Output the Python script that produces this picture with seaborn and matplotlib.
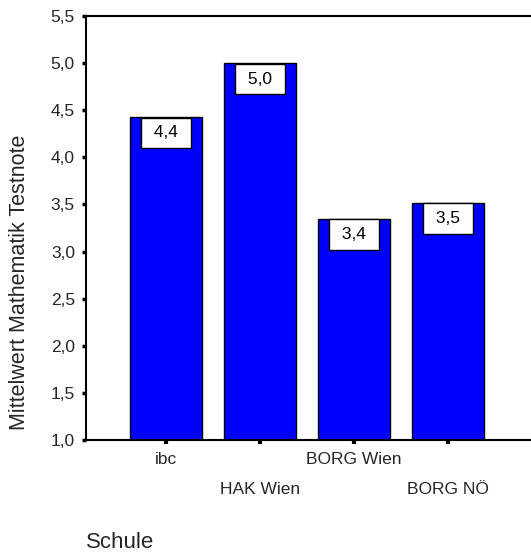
import numpy as np
import pandas as pd
import matplotlib
matplotlib.use("Agg")
import matplotlib.pyplot as plt
import seaborn as sns

# data
schulen = ["ibc", "HAK Wien", "BORG Wien", "BORG NÖ"]
mittelwerte = [4.43, 5.00, 3.35, 3.52]
yticks = [1.0, 1.5, 2.0, 2.5, 3.0, 3.5, 4.0, 4.5, 5.0, 5.5]

df = pd.DataFrame({"Schule": schulen, "Mittelwert": mittelwerte})

sns.set_theme(style="white")
plt.rcParams["font.family"] = ["Liberation Sans", "DejaVu Sans"]

W, H = 531, 553
fig = plt.figure(figsize=(W / 100, H / 100), dpi=100)
ax = fig.add_axes([86 / W, 113 / H, (W - 86) / W, 424 / H])

sns.barplot(data=df, x="Schule", y="Mittelwert", color="#0000ff", saturation=1,
            width=0.766, edgecolor="black", linewidth=1, ax=ax)

# bottom of axis is 1.0, so bars go from there
ax.set_ylim(1.0, 5.5)
ax.set_xlim(-0.851, 3.883)

# value boxes hanging from the top of each bar
fs_val = 12.5
pad = 0.45
for i, v in enumerate(mittelwerte):
    ax.annotate(" " + f"{v:.1f}".replace(".", ",") + " ", xy=(i, v),
                xytext=(0, -pad * fs_val - 0.5), textcoords="offset points",
                ha="center", va="top", fontsize=fs_val, color="black",
                bbox=dict(boxstyle=f"square,pad={pad}", fc="white", ec="black", lw=1))

ax.set_yticks(yticks)
ax.set_yticklabels([f"{t:.1f}".replace(".", ",") for t in yticks], fontsize=12.5)
ax.tick_params(axis="y", left=True, length=3, width=2.5, pad=5, color="black")
ax.tick_params(axis="x", bottom=True, length=3, width=3, pad=6, color="black",
               labelsize=12.5)
for i, tick in enumerate(ax.xaxis.get_major_ticks()):
    if i % 2 == 1:
        tick.set_pad(27)

for s in ["left", "bottom", "top"]:
    ax.spines[s].set_color("black")
    ax.spines[s].set_linewidth(1.5)
ax.spines["right"].set_visible(False)

ax.set_xlabel("")
ax.set_ylabel("")
fig.text(20 / W, 1 - 282 / H, "Mittelwert Mathematik Testnote", rotation=90,
         ha="center", va="center", fontsize=15.5)
fig.text(86 / W, 1 - 542 / H, "Schule", ha="left", va="center", fontsize=16)

fig.savefig("out.png", dpi=100)
